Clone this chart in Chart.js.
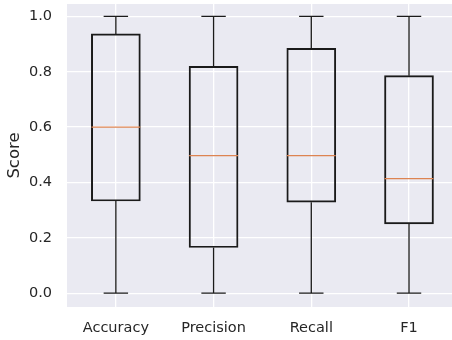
<!DOCTYPE html>
<html lang="en">
<head>
    <meta charset="UTF-8">
    <script src="https://cdn.jsdelivr.net/npm/chart.js@4.4.1/dist/chart.umd.min.js"></script>
    <title>Scores</title>
    <style>
        html, body { margin: 0; padding: 0; background: #fff; overflow: hidden; }
        #wrap { width: 452px; height: 340px; }
    </style>
</head>
<body>
    <div id="wrap"><canvas id="myChart"></canvas></div>
    <script>
        const metrics = ['Accuracy', 'Precision', 'Recall', 'F1']
        const positions = [1, 2, 3, 4]
        const whiskerLow = [0.0, 0.0, 0.0, 0.0]
        const q1 = [0.333, 0.165, 0.329, 0.250]
        const median = [0.600, 0.497, 0.497, 0.414]
        const q3 = [0.937, 0.820, 0.885, 0.786]
        const whiskerHigh = [1.0, 1.0, 1.0, 1.0]
        const yTicks = [0.0, 0.2, 0.4, 0.6, 0.8, 1.0]

        const textColor = '#262626'
        const font = { family: 'DejaVu Sans', size: 14.5 }

        // whiskers, caps and medians drawn on top of the boxes
        const boxExtras = {
            id: 'boxExtras',
            afterDatasetsDraw(chart) {
                const ctx = chart.ctx
                const x = chart.scales.x
                const y = chart.scales.y
                const unit = x.getPixelForValue(2) - x.getPixelForValue(1)
                ctx.save()
                positions.forEach((p, i) => {
                    const cx = x.getPixelForValue(p)
                    const half = unit * 0.25
                    const cap = unit * 0.125
                    ctx.strokeStyle = '#1a1a1a'
                    ctx.lineWidth = 1.3
                    ctx.beginPath()
                    ctx.moveTo(cx, y.getPixelForValue(q1[i]))
                    ctx.lineTo(cx, y.getPixelForValue(whiskerLow[i]))
                    ctx.moveTo(cx, y.getPixelForValue(q3[i]))
                    ctx.lineTo(cx, y.getPixelForValue(whiskerHigh[i]))
                    ctx.moveTo(cx - cap, y.getPixelForValue(whiskerLow[i]))
                    ctx.lineTo(cx + cap, y.getPixelForValue(whiskerLow[i]))
                    ctx.moveTo(cx - cap, y.getPixelForValue(whiskerHigh[i]))
                    ctx.lineTo(cx + cap, y.getPixelForValue(whiskerHigh[i]))
                    ctx.stroke()
                    ctx.strokeStyle = '#DD8452'
                    ctx.beginPath()
                    ctx.moveTo(cx - half, y.getPixelForValue(median[i]))
                    ctx.lineTo(cx + half, y.getPixelForValue(median[i]))
                    ctx.stroke()
                })
                ctx.restore()
            }
        }

        const plotBg = {
            id: 'plotBg',
            beforeDraw(chart) {
                const a = chart.chartArea
                chart.ctx.save()
                chart.ctx.fillStyle = '#EAEAF2'
                chart.ctx.fillRect(a.left, a.top, a.right - a.left, a.bottom - a.top)
                chart.ctx.restore()
            }
        }

        const ctx = document.getElementById('myChart').getContext('2d')
        new Chart(ctx, {
            type: 'bar',
            data: {
                datasets: [{
                    data: positions.map((p, i) => ({ x: p, y: [q1[i], q3[i]] })),
                    backgroundColor: 'rgba(0,0,0,0)',
                    borderColor: '#1a1a1a',
                    borderWidth: 1.3,
                    borderSkipped: false,
                    barThickness: 49
                }]
            },
            options: {
                responsive: true,
                maintainAspectRatio: false,
                animation: false,
                layout: { padding: { top: 4, right: 0, left: 0, bottom: 0 } },
                plugins: { legend: { display: false }, tooltip: { enabled: false } },
                scales: {
                    x: {
                        type: 'linear',
                        min: 0.5,
                        max: 4.44,
                        offset: false,
                        afterBuildTicks: (scale) => { scale.ticks = positions.map(v => ({ value: v })) },
                        afterFit: (scale) => {
                            scale.height = 33
                            scale.paddingLeft = 0
                            scale.paddingRight = 0
                        },
                        grid: { color: '#ffffff', lineWidth: 1.3, drawTicks: false, offset: false },
                        border: { display: false },
                        ticks: {
                            color: textColor,
                            font: font,
                            padding: 13,
                            maxRotation: 0,
                            callback: (v) => metrics[positions.indexOf(v)] ?? ''
                        }
                    },
                    y: {
                        min: -0.05,
                        max: 1.045,
                        afterBuildTicks: (scale) => { scale.ticks = yTicks.map(v => ({ value: v })) },
                        afterFit: (scale) => {
                            scale.width = 67
                            scale.paddingTop = 0
                            scale.paddingBottom = 0
                        },
                        grid: { color: '#ffffff', lineWidth: 1.3, drawTicks: false },
                        border: { display: false },
                        ticks: {
                            color: textColor,
                            font: font,
                            padding: 15,
                            callback: (v) => v.toFixed(1)
                        },
                        title: {
                            display: true,
                            text: 'Score',
                            color: textColor,
                            font: { family: 'DejaVu Sans', size: 16.5 },
                            padding: { top: 5, bottom: 0 }
                        }
                    }
                }
            },
            plugins: [plotBg, boxExtras]
        })
    </script>
</body>
</html>
